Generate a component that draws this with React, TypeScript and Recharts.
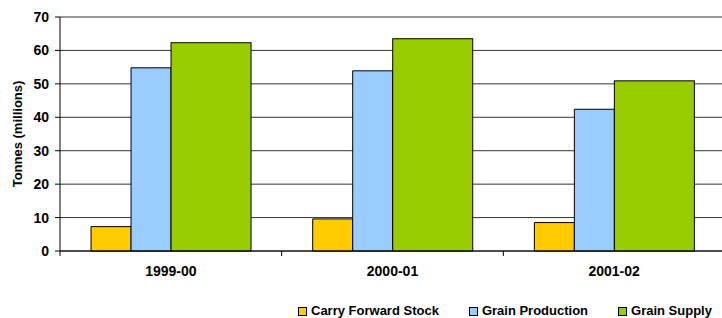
import { Bar, BarChart, CartesianGrid, Legend, XAxis, YAxis } from "recharts";

const seasons = ["1999-00", "2000-01", "2001-02"];
const carryForwardStock = [7.3, 9.6, 8.5];
const grainProduction = [54.8, 53.9, 42.4];
const grainSupply = [62.3, 63.5, 50.9];
const yTicks = [0, 10, 20, 30, 40, 50, 60, 70];

const series = [
  { key: "carry", name: "Carry Forward Stock", color: "#FFCC00" },
  { key: "production", name: "Grain Production", color: "#99CCFF" },
  { key: "supply", name: "Grain Supply", color: "#99CC00" },
];

const data = seasons.map((season, i) => ({
  season,
  carry: carryForwardStock[i],
  production: grainProduction[i],
  supply: grainSupply[i],
}));

const font = "'Liberation Sans', Arial, sans-serif";

function SeasonTick(props: any) {
  const { x, y, payload, width, visibleTicksCount } = props;
  const band = width / visibleTicksCount;
  return (
    <g>
      <line x1={x - band / 2} x2={x - band / 2} y1={y} y2={y + 5} stroke="#000" />
      <text x={x} y={y + 25} textAnchor="middle" fontWeight="bold" fontSize={14} fill="#000" fontFamily={font}>
        {payload.value}
      </text>
    </g>
  );
}

// supply bar is twice as wide: it takes its own slot plus the empty one after it
function WideBar(props: any) {
  const { x, y, width, height, fill } = props;
  return <rect x={x} y={y} width={width * 2} height={height} fill={fill} stroke="#000" strokeWidth={1} />;
}

function LegendRow() {
  return (
    <div style={{ display: "flex", gap: 30, paddingLeft: 298, height: 14, lineHeight: "14px", fontFamily: font, fontWeight: "bold", fontSize: 13, whiteSpace: "nowrap" }}>
      {series.map((s) => (
        <span key={s.key} style={{ display: "flex", alignItems: "center", gap: 4 }}>
          <span style={{ width: 7, height: 7, background: s.color, border: "1px solid #000" }}></span>
          {s.name}
        </span>
      ))}
    </div>
  );
}

export default function App() {
  return (
    <div style={{ position: "absolute", left: 0, top: 0, width: 722, height: 318, overflow: "hidden", background: "#fff" }}>
      <BarChart width={726} height={318} data={data} margin={{ top: 17, right: 1, left: 0, bottom: 0 }} barCategoryGap="14%" barGap={0}>
        <CartesianGrid vertical={false} stroke="#333" />
        <XAxis dataKey="season" height={53} axisLine={{ stroke: "#000" }} tickLine={false} tickSize={0} tickMargin={0} tick={<SeasonTick />} interval={0} />
        <YAxis
          width={60}
          domain={[0, 70]}
          ticks={yTicks}
          interval={0}
          axisLine={{ stroke: "#000" }}
          tickLine={{ stroke: "#000" }}
          tickSize={5}
          tickMargin={6}
          tick={{ fill: "#000", fontSize: 14, fontWeight: "bold", fontFamily: font }}
          label={{
            content: ({ viewBox }: any) => {
              const cy = viewBox.y + viewBox.height / 2;
              return (
                <text x={22} y={cy} transform={`rotate(-90 22 ${cy})`} textAnchor="middle" fontWeight="bold" fontSize={13} fontFamily={font} fill="#000">
                  Tonnes (millions)
                </text>
              );
            },
          }}
        />
        <Legend verticalAlign="bottom" align="left" wrapperStyle={{ left: 0, bottom: 0 }} content={() => <LegendRow />} />
        <Bar dataKey="carry" name="Carry Forward Stock" fill="#FFCC00" stroke="#000" strokeWidth={1} isAnimationActive={false} />
        <Bar dataKey="production" name="Grain Production" fill="#99CCFF" stroke="#000" strokeWidth={1} isAnimationActive={false} />
        <Bar dataKey="supply" name="Grain Supply" fill="#99CC00" shape={<WideBar />} isAnimationActive={false} />
        <Bar dataKey={() => 0} name="pad" legendType="none" shape={() => <g />} isAnimationActive={false} />
      </BarChart>
    </div>
  );
}
